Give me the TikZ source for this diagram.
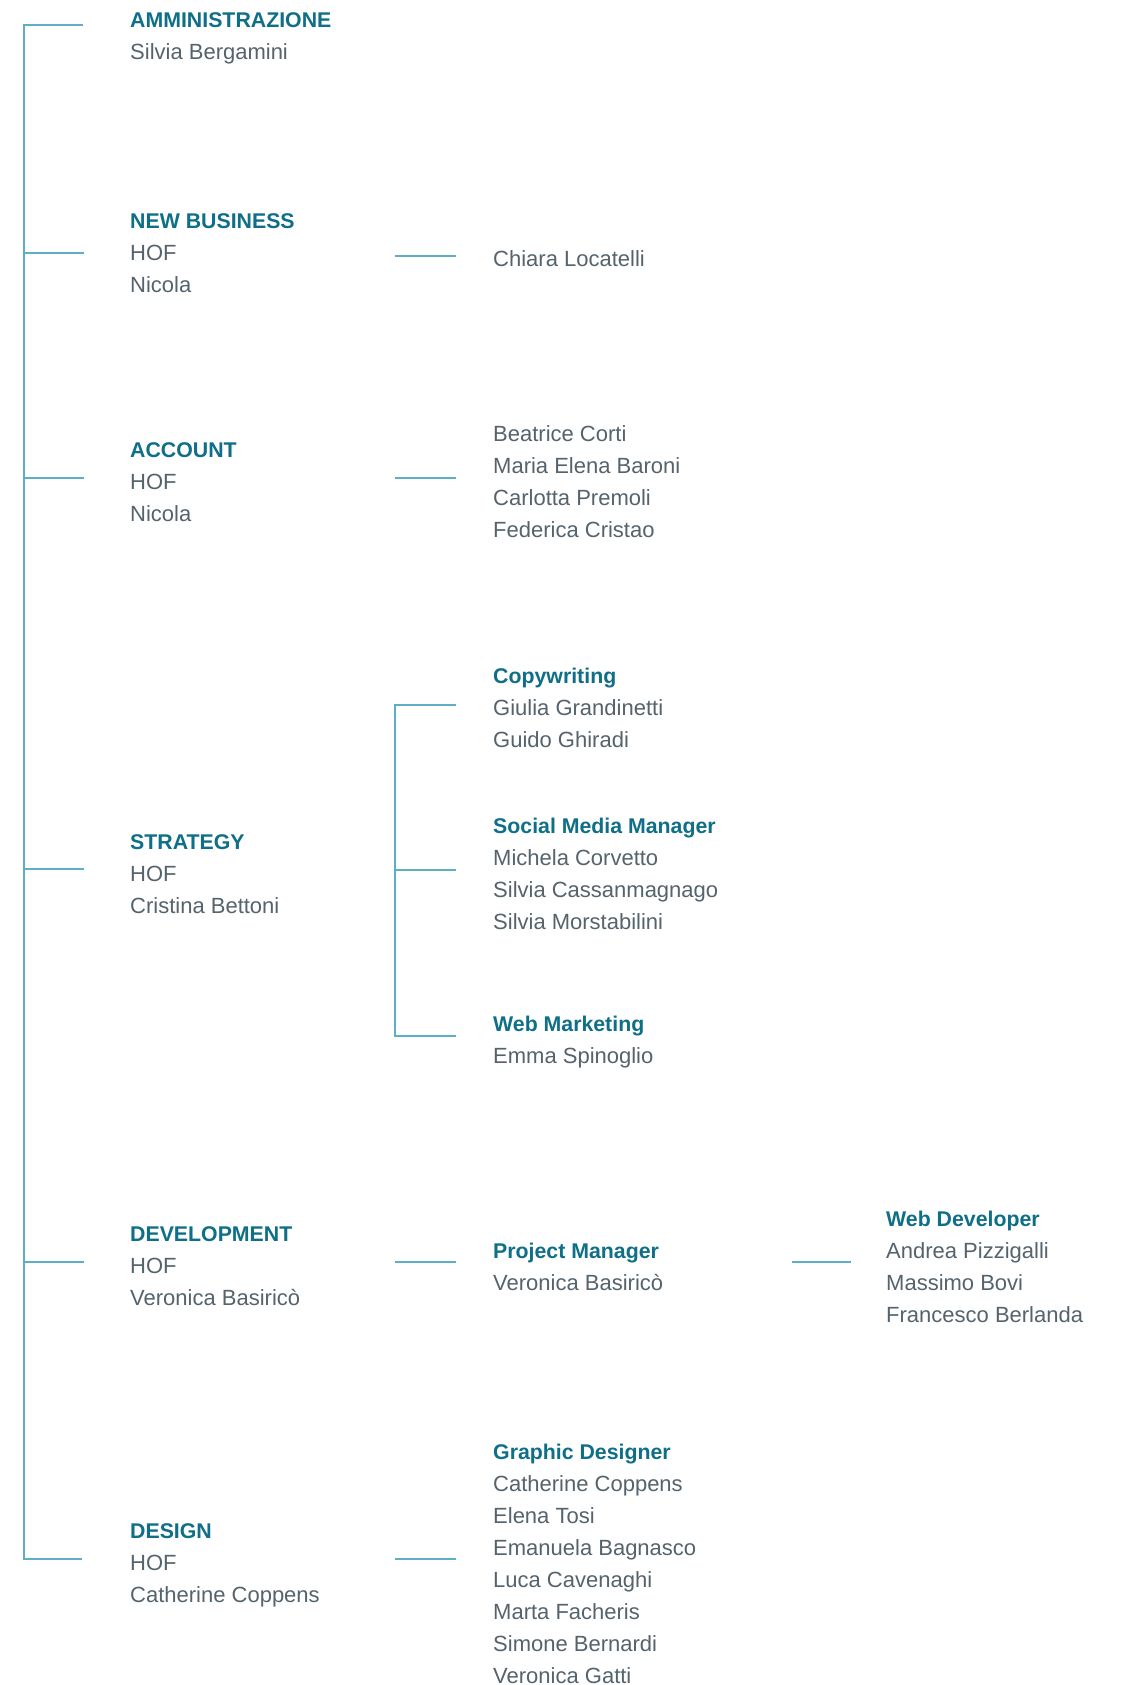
\documentclass[tikz,border=0pt]{standalone}
\usepackage{fontspec}
\setmainfont{Liberation Sans}
\definecolor{ttl}{HTML}{0F6F88}
\definecolor{txt}{HTML}{55636D}
\definecolor{lin}{HTML}{5EAFC6}
\newcommand{\ttlline}[1]{\rule{0pt}{16pt}\textcolor{ttl}{\fontsize{21.3}{32}\selectfont\bfseries #1}}
\begin{document}
\begin{tikzpicture}[x=1pt,y=-1pt,
  block/.style={anchor=north west,align=left,inner sep=0pt,text=txt,
    font=\fontsize{22}{32}\selectfont},
  conn/.style={draw=lin,line width=1.4pt}]
\useasboundingbox (0,0) rectangle (1122,1685);
\fill[white] (0,0) rectangle (1122,1685);
% column 1
\node[block] (adm) at (130,11.1) {\ttlline{AMMINISTRAZIONE}\\Silvia Bergamini};
\node[block] (nb) at (130,212.8) {\ttlline{NEW BUSINESS}\\HOF\\Nicola};
\node[block] (acc) at (130,440.8) {\ttlline{ACCOUNT}\\HOF\\Nicola};
\node[block] (str) at (130,833.3) {\ttlline{STRATEGY}\\HOF\\Cristina Bettoni};
\node[block] (dev) at (130,1225.5) {\ttlline{DEVELOPMENT}\\HOF\\Veronica Basiricò};
\node[block] (des) at (130,1521.8) {\ttlline{DESIGN}\\HOF\\Catherine Coppens};
% column 2
\node[block] (chi) at (493,250.8) {\rule{0pt}{16pt}Chiara Locatelli};
\node[block] (accr) at (493,424.8) {\rule{0pt}{16pt}Beatrice Corti\\Maria Elena Baroni\\Carlotta Premoli\\Federica Cristao};
\node[block] (copy) at (493,667.5) {\ttlline{Copywriting}\\Giulia Grandinetti\\Guido Ghiradi};
\node[block] (smm) at (493,817.5) {\ttlline{Social Media Manager}\\Michela Corvetto\\Silvia Cassanmagnago\\Silvia Morstabilini};
\node[block] (webm) at (493,1014.8) {\ttlline{Web Marketing}\\Emma Spinoglio};
\node[block] (pm) at (493,1241.8) {\ttlline{Project Manager}\\Veronica Basiricò};
\node[block] (gd) at (493,1442.8) {\ttlline{Graphic Designer}\\Catherine Coppens\\Elena Tosi\\Emanuela Bagnasco\\Luca Cavenaghi\\Marta Facheris\\Simone Bernardi\\Veronica Gatti};
% column 3
\node[block] (wd) at (886,1209.8) {\ttlline{Web Developer}\\Andrea Pizzigalli\\Massimo Bovi\\Francesco Berlanda};
% trunk coordinates
\coordinate (t1) at (24,25);
\coordinate (t2) at (24,253);
\coordinate (t3) at (24,478);
\coordinate (t4) at (24,869);
\coordinate (t5) at (24,1262);
\coordinate (t6) at (24,1559);
\coordinate (e1) at (83,25);
\coordinate (e2) at (84,253);
\coordinate (e3) at (84,478);
\coordinate (e4) at (84,869);
\coordinate (e5) at (84,1262);
\coordinate (e6) at (82,1559);
\draw[conn] (e1) -- (t1) -- (t6) -- (e6);
\foreach \i in {2,...,5} \draw[conn] (t\i) -- (e\i);
% second level stubs
\coordinate (s1a) at (395,256); \coordinate (s1b) at (456,256);
\coordinate (s2a) at (395,478); \coordinate (s2b) at (456,478);
\coordinate (s3a) at (395,1262); \coordinate (s3b) at (456,1262);
\coordinate (s4a) at (395,1559); \coordinate (s4b) at (456,1559);
\draw[conn] (s1a) -- (s1b);
\draw[conn] (s2a) -- (s2b);
\draw[conn] (s3a) -- (s3b);
\draw[conn] (s4a) -- (s4b);
% strategy subtree
\coordinate (b1) at (395,705); \coordinate (b1e) at (456,705);
\coordinate (b2) at (395,870); \coordinate (b2e) at (456,870);
\coordinate (b3) at (395,1036); \coordinate (b3e) at (456,1036);
\draw[conn] (b1e) -- (b1) -- (b3) -- (b3e);
\draw[conn] (b2) -- (b2e);
% third level
\coordinate (w1) at (792,1262); \coordinate (w2) at (851,1262);
\draw[conn] (w1) -- (w2);
\end{tikzpicture}
\end{document}
